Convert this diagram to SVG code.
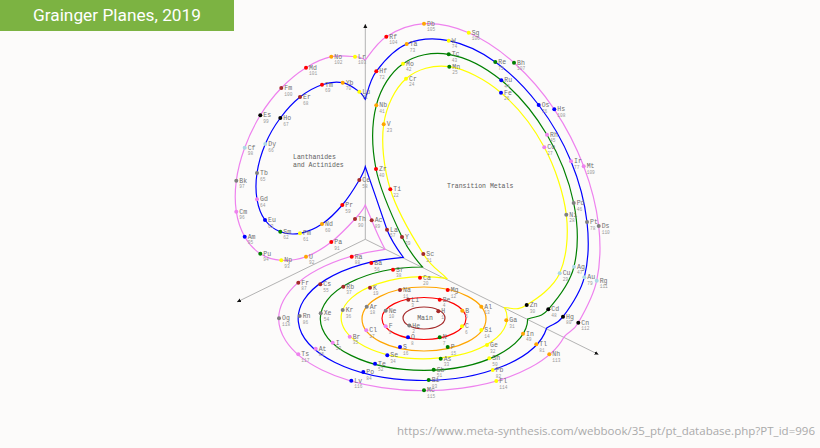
<svg xmlns="http://www.w3.org/2000/svg" width="820" height="448" viewBox="0 0 820 448">
<style>
text{font-family:"Liberation Mono",monospace;font-size:6.5px;fill:#707070}
.n{font-size:4.5px;fill:#999}
.l{font-size:6.5px;fill:#606060}
.c{fill:none;stroke-width:1.2}
.ax{stroke:#aaa;stroke-width:.9;fill:none;marker-end:url(#a)}
.br circle{fill:#a52a2a}.re circle{fill:#f00}.or circle{fill:#ffa500}.ye circle{fill:#ff0}.gr circle{fill:#008000}.bl circle{fill:#00f}.vi circle{fill:#ee82ee}.ga circle{fill:#808080}.bk circle{fill:#000}.lb circle{fill:#add8e6}
circle{r:2px}
</style>
<defs><marker id="a" markerWidth="5" markerHeight="5" refX="4" refY="2" orient="auto" markerUnits="userSpaceOnUse"><path d="M0 0L4 2L0 4Z" fill="#111"/></marker></defs>
<rect width="820" height="448" fill="#fcfbfa"/>
<rect id="title-bar" width="234" height="31" fill="#7cb342"/>
<text x="33" y="21" style="font-family:'Roboto',sans-serif;font-size:17px;fill:#fff" textLength="168" lengthAdjust="spacingAndGlyphs">Grainger Planes, 2019</text>
<text x="397" y="435" style="font-family:'Open Sans',sans-serif;font-size:11.5px;fill:#aaa" textLength="418">https://www.meta-synthesis.com/webbook/35_pt/pt_database.php?PT_id=996</text>
<g id="connectors">
<path class="ax" d="M365.3 239.3V24"/>
<path class="ax" d="M365.3 239.3L237 302"/>
<path class="ax" d="M365.3 239.3L598.5 354.5"/>
<ellipse class="c" cx="424" cy="318" rx="21" ry="11" stroke="#a52a2a"/>
<ellipse class="c" cx="424" cy="318.5" rx="42" ry="21" stroke="#f00"/>
<ellipse class="c" cx="424" cy="319" rx="62" ry="32" stroke="#ffa500"/>
<path class="c" stroke="#ff0" d="M446.7 278.3C439 270 432.8 269 423.3 254S396.9 210.9 390.3 189.3S381.1 142.7 383.7 124.3S395.1 88.3 406 78.7S433.5 64.4 449.3 66.7S485.2 79.3 501 92.7S533.4 127 544.3 147.3S563.7 193.7 566.3 214.7S566.3 258.3 559.7 273.3S535.8 299.2 526.7 305S515 308.5 504.5 307.5A83 41 0 1 1 446.7 278.3Z"/>
<path class="c" stroke="#008000" d="M422.5 267C416 259 409.8 253.3 402 237S380.3 191 376 169S371.8 122.9 376.3 105.3S390.9 72.2 403 63.7S432.3 51.5 448.7 54.3S484.9 66.9 501.3 80.3S534.9 114.3 547 134.7S569.2 181 573.7 203S578.2 249 574 266.7S556 300.6 548.3 309.3S538 315.5 527.7 319A103.7 51.7 0 1 1 422.5 267Z"/>
<path class="c" stroke="#00f" d="M403.3 257.3C395 246 391 240 387 229.7C381 212 372 186 365.3 166.7C365 168 363.1 173.6 359.3 180S348.5 197.7 342.3 205S329 219.3 322 224S307 232 300 233.3S286.1 233.9 280.3 231.7S268.9 225.4 265 220S258.3 207.1 257 199.3S255.6 182.2 257 173S261.4 153.2 265.3 144S274.5 125.8 280.3 118S293 102.6 300 97S314.9 87.1 322 84.7S336.5 81.5 342.7 82.7S355.5 88.9 359.3 91.7S362.5 95.5 365.3 99.3C367.5 93 369.4 80.5 376.3 71.3S394.6 49.1 406.7 44S433.9 37.7 448.7 40.7S480.3 51.3 495.3 62S526.1 88.5 538.7 105S563 141.8 571 161.3S584.8 202.7 587 222S588.3 261.5 584.3 277.3S569.3 308.3 563 316.7S554 323 546.7 328A125 62 0 1 1 403.3 257.3Z"/>
<path class="c" stroke="#ee82ee" d="M385 249.3C380 240 376 231 371.7 220.3C369.5 215 367 209 365.3 205C364 208 360.7 212.8 355 219S339.5 235.7 331.3 242S314.3 253.7 306 256.7S288.9 260.8 281.3 260.3S266.4 257.6 260.3 253.7S248.7 243.7 244.7 236.7S237.7 221 236.3 211.7S234.9 191.4 236.3 180.7S240.7 158.6 244.7 147.7S254.2 125.3 260.3 115.3S273.7 95.9 281.3 88S297.7 72.9 306 67.7S323.1 58.5 331.3 56.7S349.3 56.2 355 56.7S361 57.5 365.3 60C368 57 376.5 42.8 386.3 36.7S410.3 24.4 424 23.7S453.7 26.2 468.7 32.7S499.7 49.9 514 62.7S542.7 92 554.3 109.3S576.3 146.8 583.7 166.3S596.5 206.9 598.7 226S600.1 264.6 596.7 280.7S583.7 313.3 578.3 322.7S570 330 564 337A145 72 0 1 1 385 249.3Z"/>
</g>
<text class="l" x="425" y="320" text-anchor="middle">Main</text>
<text class="l" x="293" y="159">Lanthanides</text>
<text class="l" x="293" y="166.5">and Actinides</text>
<text class="l" x="447" y="188">Transition Metals</text>
<g id="H" class="br" transform="translate(438.3 311.3)"><circle/><text x="3" y="2">H</text><text class="n" x="3" y="7.7">1</text></g>
<g id="He" class="ga" transform="translate(409.3 325.5)"><circle/><text x="3" y="2">He</text><text class="n" x="3" y="7.7">2</text></g>
<g id="Li" class="br" transform="translate(408.3 299.7)"><circle/><text x="3" y="2">Li</text><text class="n" x="3" y="7.7">3</text></g>
<g id="Be" class="re" transform="translate(439.7 299.7)"><circle/><text x="3" y="2">Be</text><text class="n" x="3" y="7.7">4</text></g>
<g id="B" class="or" transform="translate(462.3 310.7)"><circle/><text x="3" y="2">B</text><text class="n" x="3" y="7.7">5</text></g>
<g id="C" class="ye" transform="translate(462 326.3)"><circle/><text x="3" y="2">C</text><text class="n" x="3" y="7.7">6</text></g>
<g id="N" class="gr" transform="translate(439.7 337.3)"><circle/><text x="3" y="2">N</text><text class="n" x="3" y="7.7">7</text></g>
<g id="O" class="bl" transform="translate(408 337.3)"><circle/><text x="3" y="2">O</text><text class="n" x="3" y="7.7">8</text></g>
<g id="F" class="vi" transform="translate(385.7 326.3)"><circle/><text x="3" y="2">F</text><text class="n" x="3" y="7.7">9</text></g>
<g id="Ne" class="ga" transform="translate(385.7 310.7)"><circle/><text x="3" y="2">Ne</text><text class="n" x="3" y="7.7">10</text></g>
<g id="Na" class="br" transform="translate(400 290)"><circle/><text x="3" y="2">Na</text><text class="n" x="3" y="7.7">11</text></g>
<g id="Mg" class="re" transform="translate(447.7 290)"><circle/><text x="3" y="2">Mg</text><text class="n" x="3" y="7.7">12</text></g>
<g id="Al" class="or" transform="translate(481.3 306.7)"><circle/><text x="3" y="2">Al</text><text class="n" x="3" y="7.7">13</text></g>
<g id="Si" class="ye" transform="translate(481.3 330)"><circle/><text x="3" y="2">Si</text><text class="n" x="3" y="7.7">14</text></g>
<g id="P" class="gr" transform="translate(447.7 347)"><circle/><text x="3" y="2">P</text><text class="n" x="3" y="7.7">15</text></g>
<g id="S" class="bl" transform="translate(400 347)"><circle/><text x="3" y="2">S</text><text class="n" x="3" y="7.7">16</text></g>
<g id="Cl" class="vi" transform="translate(366.3 330.3)"><circle/><text x="3" y="2">Cl</text><text class="n" x="3" y="7.7">17</text></g>
<g id="Ar" class="ga" transform="translate(366.7 306.7)"><circle/><text x="3" y="2">Ar</text><text class="n" x="3" y="7.7">18</text></g>
<g id="K" class="br" transform="translate(370 287.7)"><circle/><text x="3" y="2">K</text><text class="n" x="3" y="7.7">19</text></g>
<g id="Ca" class="re" transform="translate(420 277.7)"><circle/><text x="3" y="2">Ca</text><text class="n" x="3" y="7.7">20</text></g>
<g id="Sc" class="br" transform="translate(423.3 254)"><circle/><text x="3" y="2">Sc</text><text class="n" x="3" y="7.7">21</text></g>
<g id="Ti" class="re" transform="translate(390.3 189.3)"><circle/><text x="3" y="2">Ti</text><text class="n" x="3" y="7.7">22</text></g>
<g id="V" class="or" transform="translate(383.7 124.3)"><circle/><text x="3" y="2">V</text><text class="n" x="3" y="7.7">23</text></g>
<g id="Cr" class="ye" transform="translate(406 78.7)"><circle/><text x="3" y="2">Cr</text><text class="n" x="3" y="7.7">24</text></g>
<g id="Mn" class="gr" transform="translate(449.3 66.7)"><circle/><text x="3" y="2">Mn</text><text class="n" x="3" y="7.7">25</text></g>
<g id="Fe" class="bl" transform="translate(501 92.7)"><circle/><text x="3" y="2">Fe</text><text class="n" x="3" y="7.7">26</text></g>
<g id="Co" class="vi" transform="translate(544.3 147.3)"><circle/><text x="3" y="2">Co</text><text class="n" x="3" y="7.7">27</text></g>
<g id="Ni" class="ga" transform="translate(566.3 214.7)"><circle/><text x="3" y="2">Ni</text><text class="n" x="3" y="7.7">28</text></g>
<g id="Cu" class="lb" transform="translate(559.7 273.3)"><circle/><text x="3" y="2">Cu</text><text class="n" x="3" y="7.7">29</text></g>
<g id="Zn" class="bk" transform="translate(526.7 305)"><circle/><text x="3" y="2">Zn</text><text class="n" x="3" y="7.7">30</text></g>
<g id="Ga" class="or" transform="translate(506.3 320.3)"><circle/><text x="3" y="2">Ga</text><text class="n" x="3" y="7.7">31</text></g>
<g id="Ge" class="ye" transform="translate(487 345)"><circle/><text x="3" y="2">Ge</text><text class="n" x="3" y="7.7">32</text></g>
<g id="As" class="gr" transform="translate(440.7 358.7)"><circle/><text x="3" y="2">As</text><text class="n" x="3" y="7.7">33</text></g>
<g id="Se" class="bl" transform="translate(387.3 355.3)"><circle/><text x="3" y="2">Se</text><text class="n" x="3" y="7.7">34</text></g>
<g id="Br" class="vi" transform="translate(349.7 336.7)"><circle/><text x="3" y="2">Br</text><text class="n" x="3" y="7.7">35</text></g>
<g id="Kr" class="ga" transform="translate(342.7 310)"><circle/><text x="3" y="2">Kr</text><text class="n" x="3" y="7.7">36</text></g>
<g id="Rb" class="br" transform="translate(343.3 286.7)"><circle/><text x="3" y="2">Rb</text><text class="n" x="3" y="7.7">37</text></g>
<g id="Sr" class="re" transform="translate(393 269.7)"><circle/><text x="3" y="2">Sr</text><text class="n" x="3" y="7.7">38</text></g>
<g id="Y" class="br" transform="translate(402 237)"><circle/><text x="3" y="2">Y</text><text class="n" x="3" y="7.7">39</text></g>
<g id="Zr" class="re" transform="translate(376 169)"><circle/><text x="3" y="2">Zr</text><text class="n" x="3" y="7.7">40</text></g>
<g id="Nb" class="or" transform="translate(376.3 105.3)"><circle/><text x="3" y="2">Nb</text><text class="n" x="3" y="7.7">41</text></g>
<g id="Mo" class="ye" transform="translate(403 63.7)"><circle/><text x="3" y="2">Mo</text><text class="n" x="3" y="7.7">42</text></g>
<g id="Tc" class="gr" transform="translate(448.7 54.3)"><circle/><text x="3" y="2">Tc</text><text class="n" x="3" y="7.7">43</text></g>
<g id="Ru" class="bl" transform="translate(501.3 80.3)"><circle/><text x="3" y="2">Ru</text><text class="n" x="3" y="7.7">44</text></g>
<g id="Rh" class="vi" transform="translate(547 134.7)"><circle/><text x="3" y="2">Rh</text><text class="n" x="3" y="7.7">45</text></g>
<g id="Pd" class="ga" transform="translate(573.7 203)"><circle/><text x="3" y="2">Pd</text><text class="n" x="3" y="7.7">46</text></g>
<g id="Ag" class="lb" transform="translate(574 266.7)"><circle/><text x="3" y="2">Ag</text><text class="n" x="3" y="7.7">47</text></g>
<g id="Cd" class="bk" transform="translate(548.3 309.3)"><circle/><text x="3" y="2">Cd</text><text class="n" x="3" y="7.7">48</text></g>
<g id="In" class="or" transform="translate(523 333.7)"><circle/><text x="3" y="2">In</text><text class="n" x="3" y="7.7">49</text></g>
<g id="Sn" class="ye" transform="translate(489.3 358.3)"><circle/><text x="3" y="2">Sn</text><text class="n" x="3" y="7.7">50</text></g>
<g id="Sb" class="gr" transform="translate(433.7 369.7)"><circle/><text x="3" y="2">Sb</text><text class="n" x="3" y="7.7">51</text></g>
<g id="Te" class="bl" transform="translate(375 363.7)"><circle/><text x="3" y="2">Te</text><text class="n" x="3" y="7.7">52</text></g>
<g id="I" class="vi" transform="translate(332.7 342.7)"><circle/><text x="3" y="2">I</text><text class="n" x="3" y="7.7">53</text></g>
<g id="Xe" class="ga" transform="translate(320.7 313.3)"><circle/><text x="3" y="2">Xe</text><text class="n" x="3" y="7.7">54</text></g>
<g id="Cs" class="br" transform="translate(320.3 284.3)"><circle/><text x="3" y="2">Cs</text><text class="n" x="3" y="7.7">55</text></g>
<g id="Ba" class="re" transform="translate(371.3 263)"><circle/><text x="3" y="2">Ba</text><text class="n" x="3" y="7.7">56</text></g>
<g id="La" class="br" transform="translate(387 229.7)"><circle/><text x="3" y="2">La</text><text class="n" x="3" y="7.7">57</text></g>
<g id="Ce" class="br" transform="translate(359.3 180)"><circle/><text x="3" y="2">Ce</text><text class="n" x="3" y="7.7">58</text></g>
<g id="Pr" class="re" transform="translate(342.3 205)"><circle/><text x="3" y="2">Pr</text><text class="n" x="3" y="7.7">59</text></g>
<g id="Nd" class="or" transform="translate(322 224)"><circle/><text x="3" y="2">Nd</text><text class="n" x="3" y="7.7">60</text></g>
<g id="Pm" class="ye" transform="translate(300 233.3)"><circle/><text x="3" y="2">Pm</text><text class="n" x="3" y="7.7">61</text></g>
<g id="Sm" class="gr" transform="translate(280.3 231.7)"><circle/><text x="3" y="2">Sm</text><text class="n" x="3" y="7.7">62</text></g>
<g id="Eu" class="bl" transform="translate(265 220)"><circle/><text x="3" y="2">Eu</text><text class="n" x="3" y="7.7">63</text></g>
<g id="Gd" class="vi" transform="translate(257 199.3)"><circle/><text x="3" y="2">Gd</text><text class="n" x="3" y="7.7">64</text></g>
<g id="Tb" class="ga" transform="translate(257 173)"><circle/><text x="3" y="2">Tb</text><text class="n" x="3" y="7.7">65</text></g>
<g id="Dy" class="lb" transform="translate(265.3 144)"><circle/><text x="3" y="2">Dy</text><text class="n" x="3" y="7.7">66</text></g>
<g id="Ho" class="bk" transform="translate(280.3 118)"><circle/><text x="3" y="2">Ho</text><text class="n" x="3" y="7.7">67</text></g>
<g id="Er" class="br" transform="translate(300 97)"><circle/><text x="3" y="2">Er</text><text class="n" x="3" y="7.7">68</text></g>
<g id="Tm" class="re" transform="translate(322 84.7)"><circle/><text x="3" y="2">Tm</text><text class="n" x="3" y="7.7">69</text></g>
<g id="Yb" class="or" transform="translate(342.7 82.7)"><circle/><text x="3" y="2">Yb</text><text class="n" x="3" y="7.7">70</text></g>
<g id="Lu" class="ye" transform="translate(359.3 91.7)"><circle/><text x="3" y="2">Lu</text><text class="n" x="3" y="7.7">71</text></g>
<g id="Hf" class="re" transform="translate(376.3 71.3)"><circle/><text x="3" y="2">Hf</text><text class="n" x="3" y="7.7">72</text></g>
<g id="Ta" class="or" transform="translate(406.7 44)"><circle/><text x="3" y="2">Ta</text><text class="n" x="3" y="7.7">73</text></g>
<g id="W" class="ye" transform="translate(448.7 40.7)"><circle/><text x="3" y="2">W</text><text class="n" x="3" y="7.7">74</text></g>
<g id="Re" class="gr" transform="translate(495.3 62)"><circle/><text x="3" y="2">Re</text><text class="n" x="3" y="7.7">75</text></g>
<g id="Os" class="bl" transform="translate(538.7 105)"><circle/><text x="3" y="2">Os</text><text class="n" x="3" y="7.7">76</text></g>
<g id="Ir" class="vi" transform="translate(571 161.3)"><circle/><text x="3" y="2">Ir</text><text class="n" x="3" y="7.7">77</text></g>
<g id="Pt" class="ga" transform="translate(587 222)"><circle/><text x="3" y="2">Pt</text><text class="n" x="3" y="7.7">78</text></g>
<g id="Au" class="lb" transform="translate(584.3 277.3)"><circle/><text x="3" y="2">Au</text><text class="n" x="3" y="7.7">79</text></g>
<g id="Hg" class="bk" transform="translate(563 316.7)"><circle/><text x="3" y="2">Hg</text><text class="n" x="3" y="7.7">80</text></g>
<g id="Tl" class="or" transform="translate(536.3 344.3)"><circle/><text x="3" y="2">Tl</text><text class="n" x="3" y="7.7">81</text></g>
<g id="Pb" class="ye" transform="translate(492.7 370)"><circle/><text x="3" y="2">Pb</text><text class="n" x="3" y="7.7">82</text></g>
<g id="Bi" class="gr" transform="translate(428.7 380)"><circle/><text x="3" y="2">Bi</text><text class="n" x="3" y="7.7">83</text></g>
<g id="Po" class="bl" transform="translate(363.3 372)"><circle/><text x="3" y="2">Po</text><text class="n" x="3" y="7.7">84</text></g>
<g id="At" class="vi" transform="translate(315.7 348.7)"><circle/><text x="3" y="2">At</text><text class="n" x="3" y="7.7">85</text></g>
<g id="Rn" class="ga" transform="translate(299.7 316)"><circle/><text x="3" y="2">Rn</text><text class="n" x="3" y="7.7">86</text></g>
<g id="Fr" class="br" transform="translate(298.3 282.7)"><circle/><text x="3" y="2">Fr</text><text class="n" x="3" y="7.7">87</text></g>
<g id="Ra" class="re" transform="translate(351.7 256.7)"><circle/><text x="3" y="2">Ra</text><text class="n" x="3" y="7.7">88</text></g>
<g id="Ac" class="br" transform="translate(371.7 220.3)"><circle/><text x="3" y="2">Ac</text><text class="n" x="3" y="7.7">89</text></g>
<g id="Th" class="br" transform="translate(355 219)"><circle/><text x="3" y="2">Th</text><text class="n" x="3" y="7.7">90</text></g>
<g id="Pa" class="re" transform="translate(331.3 242)"><circle/><text x="3" y="2">Pa</text><text class="n" x="3" y="7.7">91</text></g>
<g id="U" class="or" transform="translate(306 256.7)"><circle/><text x="3" y="2">U</text><text class="n" x="3" y="7.7">92</text></g>
<g id="Np" class="ye" transform="translate(281.3 260.3)"><circle/><text x="3" y="2">Np</text><text class="n" x="3" y="7.7">93</text></g>
<g id="Pu" class="gr" transform="translate(260.3 253.7)"><circle/><text x="3" y="2">Pu</text><text class="n" x="3" y="7.7">94</text></g>
<g id="Am" class="bl" transform="translate(244.7 236.7)"><circle/><text x="3" y="2">Am</text><text class="n" x="3" y="7.7">95</text></g>
<g id="Cm" class="vi" transform="translate(236.3 211.7)"><circle/><text x="3" y="2">Cm</text><text class="n" x="3" y="7.7">96</text></g>
<g id="Bk" class="ga" transform="translate(236.3 180.7)"><circle/><text x="3" y="2">Bk</text><text class="n" x="3" y="7.7">97</text></g>
<g id="Cf" class="lb" transform="translate(244.7 147.7)"><circle/><text x="3" y="2">Cf</text><text class="n" x="3" y="7.7">98</text></g>
<g id="Es" class="bk" transform="translate(260.3 115.3)"><circle/><text x="3" y="2">Es</text><text class="n" x="3" y="7.7">99</text></g>
<g id="Fm" class="br" transform="translate(281.3 88)"><circle/><text x="3" y="2">Fm</text><text class="n" x="3" y="7.7">100</text></g>
<g id="Md" class="re" transform="translate(306 67.7)"><circle/><text x="3" y="2">Md</text><text class="n" x="3" y="7.7">101</text></g>
<g id="No" class="or" transform="translate(331.3 56.7)"><circle/><text x="3" y="2">No</text><text class="n" x="3" y="7.7">102</text></g>
<g id="Lr" class="ye" transform="translate(355 56.7)"><circle/><text x="3" y="2">Lr</text><text class="n" x="3" y="7.7">103</text></g>
<g id="Rf" class="re" transform="translate(386.3 36.7)"><circle/><text x="3" y="2">Rf</text><text class="n" x="3" y="7.7">104</text></g>
<g id="Db" class="or" transform="translate(424 23.7)"><circle/><text x="3" y="2">Db</text><text class="n" x="3" y="7.7">105</text></g>
<g id="Sg" class="ye" transform="translate(468.7 32.7)"><circle/><text x="3" y="2">Sg</text><text class="n" x="3" y="7.7">106</text></g>
<g id="Bh" class="gr" transform="translate(514 62.7)"><circle/><text x="3" y="2">Bh</text><text class="n" x="3" y="7.7">107</text></g>
<g id="Hs" class="bl" transform="translate(554.3 109.3)"><circle/><text x="3" y="2">Hs</text><text class="n" x="3" y="7.7">108</text></g>
<g id="Mt" class="vi" transform="translate(583.7 166.3)"><circle/><text x="3" y="2">Mt</text><text class="n" x="3" y="7.7">109</text></g>
<g id="Ds" class="ga" transform="translate(598.7 226)"><circle/><text x="3" y="2">Ds</text><text class="n" x="3" y="7.7">110</text></g>
<g id="Rg" class="lb" transform="translate(596.7 280.7)"><circle/><text x="3" y="2">Rg</text><text class="n" x="3" y="7.7">111</text></g>
<g id="Cn" class="bk" transform="translate(578.3 322.7)"><circle/><text x="3" y="2">Cn</text><text class="n" x="3" y="7.7">112</text></g>
<g id="Nh" class="or" transform="translate(549.3 354.3)"><circle/><text x="3" y="2">Nh</text><text class="n" x="3" y="7.7">113</text></g>
<g id="Fl" class="ye" transform="translate(496.3 381)"><circle/><text x="3" y="2">Fl</text><text class="n" x="3" y="7.7">114</text></g>
<g id="Mc" class="gr" transform="translate(424 390.3)"><circle/><text x="3" y="2">Mc</text><text class="n" x="3" y="7.7">115</text></g>
<g id="Lv" class="bl" transform="translate(351.3 380.7)"><circle/><text x="3" y="2">Lv</text><text class="n" x="3" y="7.7">116</text></g>
<g id="Ts" class="vi" transform="translate(298.3 354.3)"><circle/><text x="3" y="2">Ts</text><text class="n" x="3" y="7.7">117</text></g>
<g id="Og" class="ga" transform="translate(279 318.3)"><circle/><text x="3" y="2">Og</text><text class="n" x="3" y="7.7">118</text></g>
</svg>
